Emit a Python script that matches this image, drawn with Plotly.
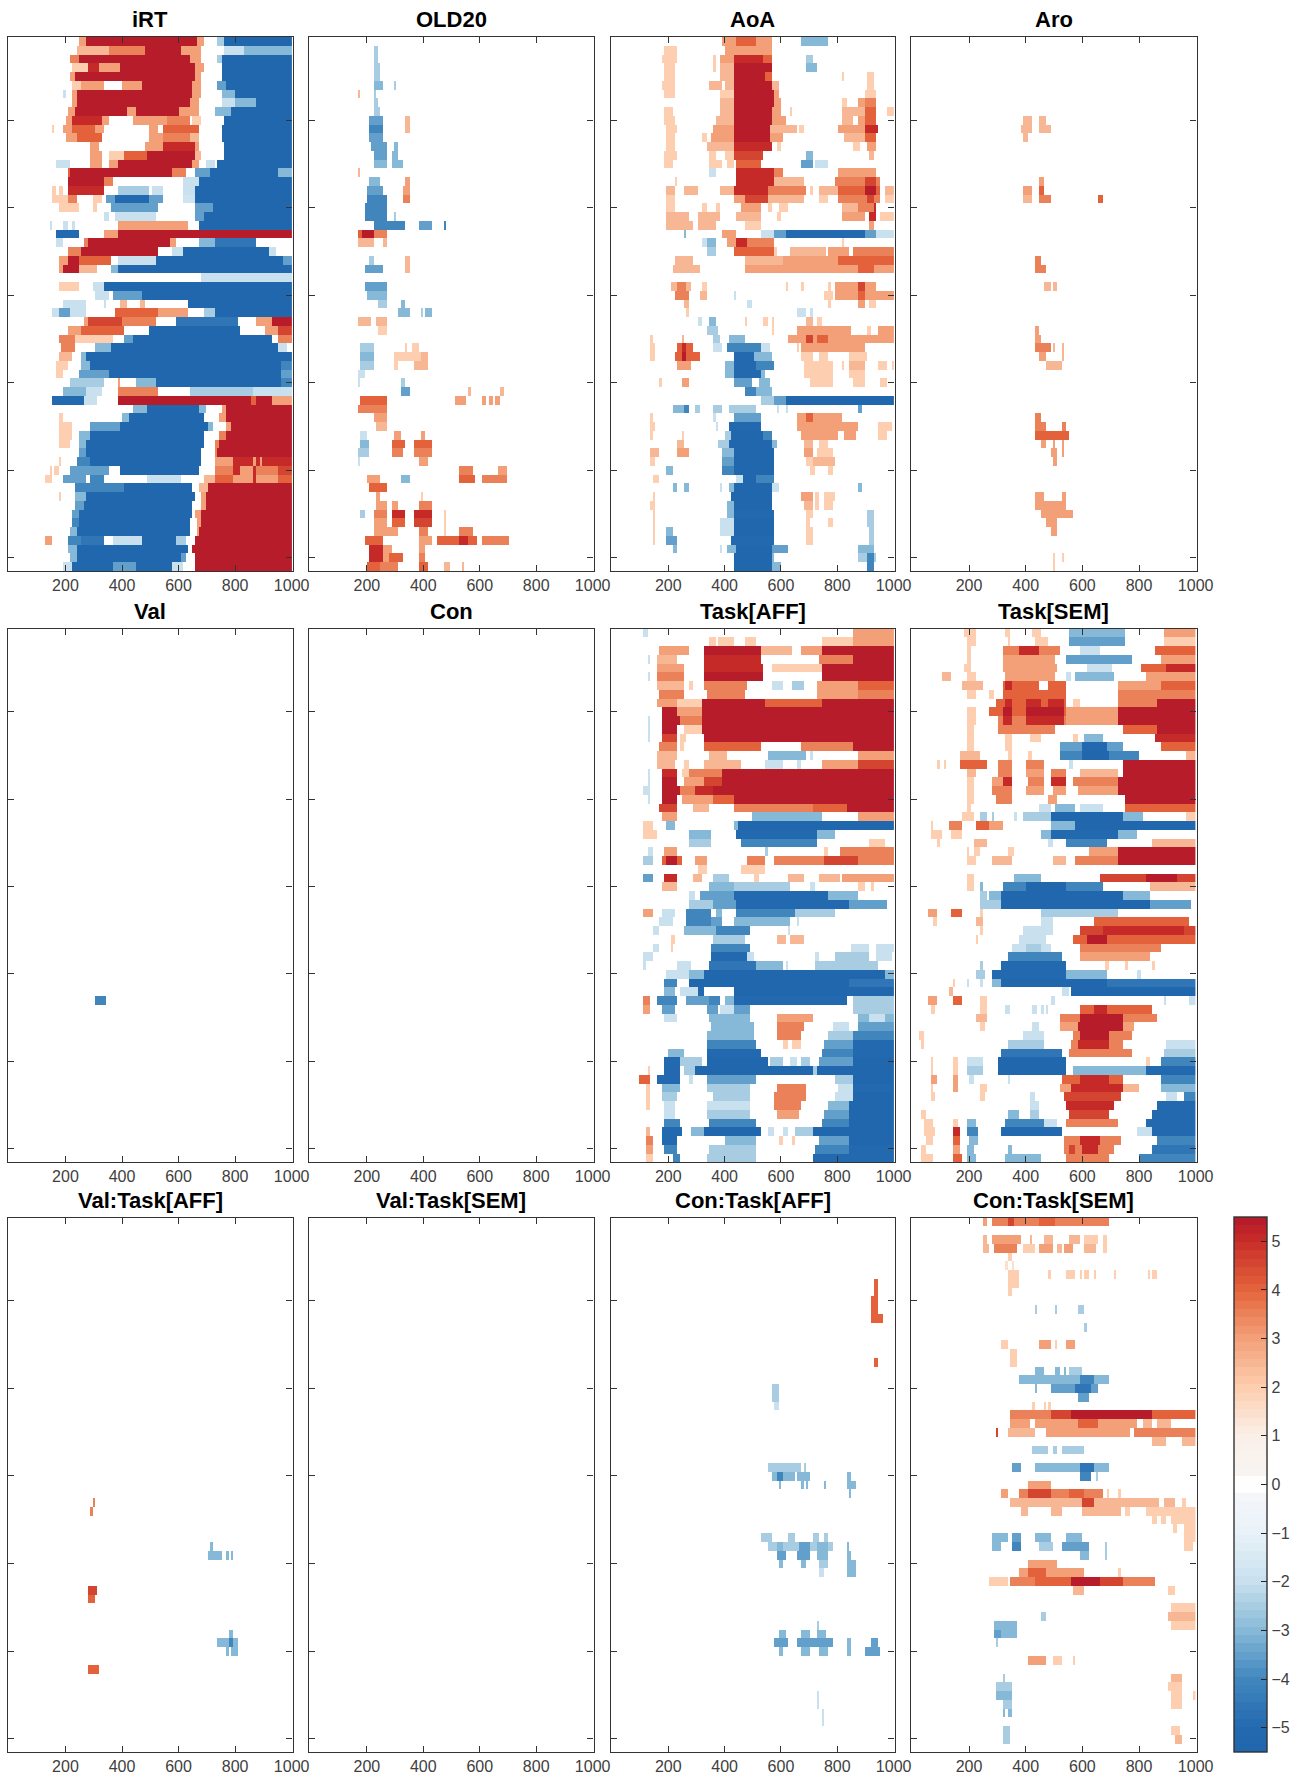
import numpy as np
import plotly.graph_objects as go

# Each panel: row number -> flat run list  start_ms, end_ms, t-value, ... (later runs overwrite earlier ones)
IRT = {
1:[245,275,3, 275,665,5.5, 665,690,3, 740,760,-2.5, 760,1000,-5.5],
2:[240,350,2.5, 350,480,3.5, 480,610,5.5, 610,680,3, 760,830,-2, 830,1000,-3],
3:[215,250,3.5, 250,640,5.5, 640,680,3, 735,750,-2.5, 750,1000,-5.5],
4:[225,280,2, 280,320,5, 320,390,3, 390,660,5.5, 660,690,3, 750,1000,-5.5],
5:[215,230,3, 230,660,5.5, 660,680,3, 750,1000,-5.5],
6:[225,260,2, 260,300,3, 300,340,3, 400,470,3, 470,650,5.5, 650,680,3, 740,770,-3.5, 770,1000,-5.5],
7:[190,198,-2, 225,240,3, 240,650,5.5, 650,680,3, 750,800,-3, 800,1000,-5.5],
8:[225,240,3, 240,640,5.5, 640,670,3, 750,800,-2, 800,870,-3, 870,1000,-5.5],
9:[210,230,3, 230,420,5.5, 420,450,3, 450,600,5.5, 600,670,3, 730,780,-3, 780,1000,-5.5],
10:[200,220,3, 220,330,5, 330,350,3, 440,480,3, 480,560,3, 560,640,3.5, 650,680,2, 760,1000,-5.5],
11:[150,160,2, 190,220,3, 220,300,4, 300,340,3, 500,530,3, 540,670,4, 750,1000,-5.5],
12:[200,240,3, 240,330,4, 500,540,3, 540,640,3.5, 640,670,2.5, 755,1000,-5.5],
13:[288,320,3, 480,540,3, 540,655,5, 655,675,3, 760,1000,-5.5],
14:[288,325,3, 355,410,2, 410,485,4, 485,655,5.5, 660,680,2.5, 760,1000,-5.5],
15:[170,215,-2, 290,325,3, 350,380,3, 380,650,5.5, 650,670,3, 695,725,-2, 740,1000,-5.5],
16:[205,235,4, 215,575,5.5, 575,620,3.5, 660,715,-3.5, 715,950,-5.5, 950,1000,-3],
17:[205,340,5.5, 340,370,3.5, 615,670,-2, 670,1000,-5.5],
18:[155,170,2, 175,190,2, 205,340,5, 380,500,-2.5, 505,545,-2, 615,655,-2, 660,1000,-5.5],
19:[155,205,2, 205,240,3.5, 295,325,2, 345,375,-3.5, 375,500,-5, 500,545,-3.5, 615,655,-1.8, 660,1000,-5.5],
20:[175,250,2, 295,315,2, 360,530,-3.5, 660,720,-3.5, 720,1000,-5.5],
21:[335,350,-2, 375,520,-2, 660,685,-3.5, 685,1000,-5.5],
22:[145,155,-2, 195,205,-2, 220,228,-2, 380,630,3, 670,1000,-5.5],
23:[170,250,-5, 335,380,3, 380,1000,5.5],
24:[170,190,-2, 265,280,3.5, 280,565,5.5, 565,595,3, 675,725,-3, 725,875,-4.5],
25:[205,255,3.5, 255,525,5.5, 580,615,-2, 615,920,-5.5, 920,945,-2],
26:[180,205,3, 205,245,5.5, 245,360,4, 380,520,-2, 520,965,-5.5, 965,1000,-3.5],
27:[175,195,3, 195,250,5.5, 250,315,2.5, 360,380,-3, 380,1000,-5.5],
28:[680,1000,-2],
29:[175,245,2, 295,340,-2, 340,1000,-5.5],
30:[305,355,-2, 370,470,-3.5, 470,1000,-5.5],
31:[195,270,-2, 335,345,-2, 390,420,2.5, 460,480,2.5, 630,1000,-5.5],
32:[155,175,-2, 175,215,-3.5, 215,270,-2, 375,530,4, 530,630,3, 685,725,-2.5, 725,1000,-5.5],
33:[265,280,3, 280,400,4.5, 400,520,3.5, 590,810,-4.5, 875,930,3, 930,1000,5.5],
34:[205,260,3, 260,410,4, 500,820,-5.5, 905,950,3, 950,1000,4.5],
35:[180,230,3.5, 230,370,2, 410,440,-3.5, 440,925,-5.5, 950,1000,3.5],
36:[185,230,3.5, 305,360,-3, 360,950,-5.5, 950,985,-2],
37:[180,225,2.5, 255,270,-3, 270,1000,-5.5],
38:[170,210,2, 255,285,-3, 285,960,-5.5, 960,1000,-4],
39:[170,190,2, 245,355,-3.5, 355,960,-5.5, 960,1000,-3.5],
40:[215,340,-2.5, 380,388,3, 450,520,-3, 520,960,-5.5, 960,1000,-4],
41:[195,270,-3, 270,325,-2, 380,525,3.5, 640,860,-2.5, 860,1000,-2],
42:[155,265,-5, 265,310,-2, 380,855,5.5, 855,870,4, 870,930,5.5, 930,1000,3],
43:[440,490,-3, 490,670,-5.5, 670,695,-3, 750,765,3, 765,1000,5.5],
44:[175,190,2, 400,425,-3, 425,690,-5.5, 745,765,3, 765,1000,5.5],
45:[175,225,2, 285,395,-3.5, 395,700,-5.5, 700,720,-3, 765,780,3, 780,1000,5.5],
46:[175,225,2, 245,285,-3, 285,690,-5.5, 745,765,3.5, 765,1000,5.5],
47:[180,215,2, 250,270,-3, 270,685,-5.5, 725,745,3.5, 745,1000,5.5],
48:[245,275,-3.5, 275,680,-5.5, 725,740,3.5, 740,1000,5.5],
49:[175,182,2, 240,290,-4, 290,680,-5.5, 730,790,3, 790,1000,5, 860,870,3, 890,900,3],
50:[140,150,2, 160,175,2, 215,350,-3.5, 395,670,-5.5, 725,790,3.5, 790,820,5, 820,860,3, 860,875,5, 875,950,3.5, 950,1000,4.5],
51:[130,155,2, 195,270,-3.5, 285,340,-4, 490,610,-2, 685,730,2.5, 730,790,4, 790,860,3, 860,875,5, 875,950,3, 950,1000,4],
52:[230,410,-4, 410,650,-5.5, 675,700,2.5, 700,1000,5.5],
53:[175,185,2, 230,270,-3, 270,655,-5.5, 680,695,3, 695,1000,5.5],
54:[235,265,-3.5, 265,650,-5.5, 680,695,3, 695,1000,5.5],
55:[225,250,-3.5, 250,645,-5.5, 660,680,3, 680,1000,5.5],
56:[220,250,-4, 250,640,-5.5, 665,680,3, 680,1000,5.5],
57:[215,240,-3, 240,640,-5.5, 665,675,3, 675,1000,5.5],
58:[130,155,3, 205,260,-4, 260,335,-4.5, 370,470,-2, 470,590,-5.5, 590,625,-2.5, 660,1000,5.5],
59:[210,240,-3, 240,630,-5.5, 650,1000,5.5],
60:[215,240,-3, 240,605,-5.5, 605,625,-3.5, 660,1000,5.5],
61:[190,225,-2, 225,365,-5.5, 365,450,-3.5, 450,580,-5.5, 580,615,-2, 660,1000,5.5],
}

OLD20 = {
2:[225,240,-2.5], 3:[220,240,-2.5], 4:[220,250,-2.5], 5:[220,250,-2.5],
6:[220,255,-3, 295,305,-2.5], 7:[170,180,2.5, 220,235,-2.5], 8:[220,240,-2.5], 9:[220,250,-2.5],
10:[210,255,-3.5, 335,350,2.5], 11:[210,255,-4, 335,350,2.5], 12:[210,258,-3.5],
13:[215,270,-3.5, 295,310,-3], 14:[220,270,-3.5, 290,315,-3], 15:[220,270,-3, 290,325,-3],
16:[170,180,2.5], 17:[210,250,-3, 335,350,3], 18:[200,260,-3.5, 330,355,3],
19:[200,270,-4, 330,355,3.5], 20:[190,270,-4], 21:[190,275,-4, 295,305,-2.5],
22:[228,335,-4, 385,430,-3.5, 470,478,-4],
23:[170,185,4, 185,228,5.5, 228,275,3.5], 24:[170,220,2.5, 258,268,2.5],
26:[210,228,-2.5, 335,350,2.5], 27:[190,258,-3.5, 340,355,2.5], 29:[190,270,-3.5],
30:[200,270,-3], 31:[240,270,-2.5, 320,335,-3], 32:[310,355,-3, 390,400,-2.5, 405,430,-3],
33:[170,218,2.5, 230,270,2.5], 34:[240,270,2], 36:[180,228,-2.5, 335,345,2, 360,380,2],
37:[180,228,-3, 295,415,2, 395,415,2.5], 38:[180,228,-2.5, 295,315,2, 370,415,2.5],
39:[170,190,-2], 40:[170,180,-2, 320,335,-2.5],
41:[320,355,-3.5, 560,570,2.5, 675,690,2.5],
42:[180,275,4, 515,555,3, 605,625,3, 635,645,3, 660,672,3],
43:[170,275,3.5], 44:[220,270,3], 45:[230,270,2.5],
46:[180,200,-2, 295,320,3, 390,405,3], 47:[180,210,-3, 290,335,4, 370,430,4],
48:[170,210,-2.5, 290,325,3.5, 370,430,3.5], 49:[170,180,-2, 380,415,3],
50:[525,575,3.5, 665,695,3], 51:[200,250,3, 320,355,-3, 525,585,4, 605,695,3.5],
52:[210,270,4], 53:[230,250,3, 390,400,2], 54:[230,270,3, 290,315,3, 380,430,3.5],
55:[180,190,-2.5, 220,270,3.5, 290,335,5, 370,430,5, 475,483,2],
56:[220,270,3, 290,335,4, 370,430,4.5, 475,483,2], 57:[220,270,3, 275,315,3, 380,415,3.5, 475,483,2, 525,575,3.5],
58:[190,258,4, 380,435,3, 445,595,4, 530,560,5, 605,705,3.5],
59:[210,258,5, 258,290,3, 380,405,3], 60:[210,258,5, 258,290,3, 280,325,4, 380,405,3.5],
61:[200,250,4, 250,315,3.5, 380,415,4, 475,495,2.5, 535,545,2.5],
}

AOA = {
1:[393,565,3, 441,510,4, 676,772,-3],
2:[186,234,2, 400,565,3],
3:[177,234,2, 359,367,2, 386,434,3, 434,538,5, 538,570,4, 690,714,-2.5],
4:[186,220,2, 359,372,2, 386,434,2.5, 434,565,5.5, 685,731,-3],
5:[186,220,2, 386,434,2.5, 434,545,5.5, 545,565,4, 814,825,2, 903,931,2],
6:[177,220,2, 345,393,2.5, 400,434,2.5, 434,565,5.5, 565,593,2.5, 903,931,2],
7:[186,220,2, 386,434,2, 434,572,5.5, 572,593,3, 896,938,2],
8:[386,434,2.5, 434,572,5.5, 572,600,3, 814,834,2, 869,896,3, 896,938,3.5],
9:[186,218,2, 386,434,2.5, 434,565,5.5, 565,600,3, 634,642,2, 814,896,2.5, 896,938,4, 972,1000,2],
10:[186,228,2, 365,428,2.5, 428,565,5.5, 565,614,3, 814,855,2.5, 869,896,3, 896,938,4],
11:[190,234,2, 359,434,3, 434,559,5.5, 559,655,2.5, 665,683,2, 803,896,3, 896,945,5],
12:[195,220,2, 324,332,2, 352,434,3, 434,559,5.5, 559,607,3, 827,896,2.5, 896,938,4],
13:[190,220,2, 338,434,2.5, 434,565,5, 586,600,2, 855,883,2, 903,938,3],
14:[186,234,2, 345,372,2, 400,434,2, 434,538,4.5, 690,714,-3, 910,931,2.5],
15:[186,218,2, 345,393,2, 407,428,2, 441,531,4, 676,714,-3.5, 724,765,-2],
16:[345,365,-2, 441,572,5, 572,610,3.5, 800,938,3],
17:[228,234,2, 441,572,5, 572,655,2.5, 655,683,2.5, 793,952,3.5, 896,938,4.5],
18:[196,228,2.5, 255,306,2.5, 386,434,2.5, 434,552,5, 552,690,3.5, 703,714,2, 738,803,2.5, 803,952,4, 896,938,5.5, 965,1000,2.5],
19:[196,220,2, 434,469,3, 469,552,4.5, 552,683,2.5, 738,765,2, 803,952,3.5, 903,931,4.5, 965,1000,2],
20:[196,220,2, 324,332,2, 372,386,2, 455,531,3, 552,565,2, 593,621,2, 814,869,2.5, 869,938,3.5, 924,931,5],
21:[196,273,2.5, 306,386,2.5, 441,524,2.5, 586,600,2, 814,896,3, 910,938,5, 952,1000,2],
22:[196,287,2.5, 306,372,2.5, 469,524,2, 910,931,3],
23:[255,265,-3, 393,441,3, 524,579,-2, 579,614,-3.5, 614,896,-5, 896,938,-3.5, 938,1000,-2],
24:[324,332,-2, 338,372,-3, 407,441,3, 441,476,5, 476,572,3.5, 814,825,2],
25:[332,372,-2.5, 434,572,4, 572,586,2, 634,758,2.5, 772,841,3, 855,1000,3.5],
26:[228,290,2.5, 469,607,2.5, 607,1000,3, 803,1000,4],
27:[218,314,2.5, 469,1000,3, 869,924,4],
29:[207,280,2.5, 234,266,3.5, 324,332,2, 614,622,2, 676,683,2, 765,772,2, 793,938,3, 869,896,4.5],
30:[228,273,3.5, 314,332,2.5, 434,441,-2, 752,783,2, 793,1000,3, 869,896,4],
31:[255,273,2.5, 476,496,-2, 765,772,2, 869,896,3, 910,938,2],
32:[265,273,2, 655,690,-2, 703,714,-2],
33:[306,324,-2, 345,372,-3, 469,476,2, 538,552,2, 565,572,2, 690,714,2.5, 731,745,2],
34:[338,379,-2.5, 565,572,2, 655,848,3, 903,917,2, 945,1000,3],
35:[138,145,2, 250,255,2.5, 359,386,-2.5, 414,469,-3, 625,1000,3, 690,714,4.5, 731,765,4],
36:[138,155,2, 234,287,4, 248,262,5, 359,393,-2, 407,531,-4, 531,559,-2, 655,662,2, 676,896,3],
37:[138,155,2, 228,314,4, 248,262,5.5, 434,503,-5, 503,565,-3, 676,714,2, 738,765,2, 841,903,2],
38:[234,280,3, 400,434,-3, 434,510,-5, 510,572,-4, 683,783,2, 814,825,2, 841,896,2.5, 945,972,2, 993,1000,2],
39:[400,428,-3, 428,524,-5, 524,545,-3, 683,783,2, 841,896,2],
40:[166,176,2, 248,273,3, 428,496,-3.5, 517,559,-3, 703,783,2, 855,896,2, 952,972,2],
41:[469,510,-4, 510,565,-3],
42:[524,579,-2.5, 579,614,-3.5, 614,1000,-5.5],
43:[218,255,-3, 255,273,-4, 297,314,-2.5, 359,393,-2.5, 414,510,-2.5, 586,593,-2, 614,622,-2, 869,890,-3.5],
44:[138,145,2, 359,372,-2, 428,531,-3.5, 655,814,3, 690,714,4],
45:[138,155,2, 365,372,-2, 414,531,-5, 655,869,3, 945,993,2],
46:[138,145,2, 248,255,2, 400,421,-2.5, 421,538,-5.5, 538,565,-4, 676,800,3, 827,862,3, 945,979,2],
47:[234,255,2.5, 379,414,-2.5, 414,565,-5.5, 565,586,-3, 683,714,2.5, 738,765,2],
48:[138,166,2.5, 234,273,3, 393,428,-3, 428,572,-5.5, 683,714,3, 731,783,2],
49:[138,155,2, 393,428,-3.5, 428,572,-5.5, 690,714,2, 714,793,2.5],
50:[196,218,-3, 393,434,-4, 434,572,-5.5, 703,724,2, 765,783,2],
51:[145,166,2, 441,462,-2, 462,510,-5.5, 510,572,-4],
52:[218,234,-3, 255,273,-3, 386,393,-2, 414,434,-3, 434,565,-5.5, 565,593,-2, 869,890,-3],
53:[145,155,2, 421,565,-5.5, 676,714,3, 724,738,2, 752,793,2],
54:[138,155,2, 407,434,-3, 434,565,-5.5, 683,714,2.5, 724,738,2, 752,783,2],
55:[145,155,2, 407,434,-3, 434,579,-5, 686,714,2, 903,931,-2.5],
56:[145,155,2, 386,428,-2, 428,572,-5.5, 686,703,2, 772,783,2, 903,931,-2.5],
57:[145,155,2, 196,218,-3, 386,428,-2, 428,572,-5.5, 690,714,2, 910,931,-2.5],
58:[145,155,2, 196,234,-3.5, 421,572,-5, 690,714,2, 910,924,-2.5],
59:[218,234,-3, 386,393,-2, 407,441,-3, 441,565,-5.5, 565,621,-3.5, 869,931,-3],
60:[428,565,-5.5, 565,579,-3, 869,938,-2.5, 903,931,-4],
61:[434,565,-5.5, 565,600,-3, 903,931,-4],
}

ARO = {
10:[395,425,2.5, 445,475,2.5], 11:[385,425,2.5, 445,485,2.5], 12:[395,405,2.5],
17:[445,465,3], 18:[395,425,3, 445,465,4], 19:[395,425,2.5, 445,485,3.5, 655,675,4],
26:[435,455,3.5], 27:[435,475,3.5], 29:[465,485,2.5, 495,515,2.5],
34:[435,445,3], 35:[435,455,3], 36:[435,485,3.5, 495,503,2.5, 525,533,2.5],
37:[445,475,3, 525,533,2.5], 38:[475,525,2.5],
44:[435,455,3.5], 45:[435,475,3.5, 525,545,3.5], 46:[435,555,4],
47:[455,475,3, 495,503,3, 525,533,3], 48:[485,515,3, 525,533,3], 49:[495,515,3],
53:[435,465,3, 525,545,3], 54:[435,545,3], 55:[455,565,3], 56:[475,515,3], 57:[485,515,3],
60:[495,505,2, 525,533,2], 61:[495,505,2],
}

VAL = {43:[300,345,-4]}

TASK_AFF = {
1:[115,125,-2, 855,1000,3],
2:[345,365,2, 375,435,2, 475,515,2, 745,855,2, 855,1000,3],
3:[165,275,3, 325,530,5.5, 530,640,2.5, 670,745,3, 745,1000,5.5],
4:[125,135,-2, 160,235,2.5, 330,525,5, 735,855,3.5, 855,1000,5.5],
5:[160,260,3, 325,535,5, 565,745,2, 745,1000,5.5],
6:[125,135,-2, 160,255,3.5, 325,535,5.5, 745,1000,5.5],
7:[160,255,2.5, 275,285,2, 330,480,3.5, 570,610,-2, 640,680,-2.5, 725,870,3, 870,1000,4],
8:[165,255,3.5, 335,470,3.5, 725,870,3, 870,1000,3.5],
9:[160,235,3, 235,320,2, 320,545,5.5, 545,745,4, 745,1000,5.5],
10:[180,235,5.5, 235,320,3, 320,1000,5.5],
11:[125,135,-2, 180,240,5.5, 240,320,3.5, 320,1000,5.5],
12:[125,135,-2, 180,235,5.5, 255,320,2, 320,1000,5.5],
13:[125,135,-2, 180,235,4.5, 240,262,2, 325,1000,5.5],
14:[165,235,3.5, 240,255,2, 325,530,4, 676,855,3.5, 855,1000,5.5],
15:[160,235,2.5, 345,410,2.5, 552,690,-3, 703,714,-2, 869,1000,3],
16:[160,228,2.5, 255,275,2, 330,455,2.5, 545,572,-2, 579,607,-2, 655,676,-2, 745,869,3, 869,1000,4.5],
17:[125,135,-2, 180,235,5, 250,275,2, 275,390,3.5, 390,1000,5.5],
18:[125,135,-2, 180,235,5.5, 255,325,3, 325,393,4.5, 393,1000,5.5],
19:[110,135,-2, 180,240,5.5, 240,297,3.5, 297,359,5, 359,1000,5.5],
20:[125,135,-2, 180,235,5.5, 250,359,3, 359,428,4, 428,1000,5.5],
21:[166,235,4.5, 287,345,2.5, 434,710,3.5, 710,830,4, 830,1000,5.5],
22:[177,235,3, 496,745,-3, 875,1000,3],
23:[110,145,2, 196,225,-3, 428,448,-3, 448,1000,-5.5],
24:[110,159,2, 270,350,-3, 441,730,-5, 730,793,-3],
25:[270,350,-2.5, 455,725,-4, 910,970,2],
26:[125,145,-2, 186,235,3, 545,555,-2.5, 752,772,2, 806,1000,3.5],
27:[115,145,-2.5, 180,245,4, 196,234,5.5, 297,332,3, 476,545,3.5, 572,1000,3.5, 752,869,4.5],
28:[306,340,2, 455,540,2],
29:[110,145,-3.5, 186,234,5, 286,324,2.5, 359,414,-2.5, 503,517,2, 621,683,2.5, 738,810,2.5, 820,1000,3],
30:[180,234,2.5, 345,428,-3, 428,634,-2.5, 703,724,-2, 869,896,2, 917,931,2],
31:[276,297,-2, 314,428,-3.5, 428,772,-5, 772,869,-3],
32:[276,359,-2.5, 359,441,-3.5, 441,841,-5, 841,979,-3.5],
33:[110,145,3, 177,228,-2, 262,349,-4, 372,393,-3, 441,648,-4, 648,793,-2.5],
34:[170,215,-2, 262,349,-4, 349,393,-3.5, 434,634,-3, 655,662,-2],
35:[145,170,-2, 255,372,-3, 372,490,-4, 620,634,-2],
36:[207,225,2, 359,469,-2.5, 586,614,2.5, 634,683,2.5],
37:[140,166,-2, 207,218,2, 352,490,-4, 848,910,-2, 938,1000,-2],
38:[110,145,-2, 352,476,-5, 476,503,-2, 717,738,-2, 793,910,-2.5, 938,993,-2],
39:[110,120,-2, 234,282,-2, 345,510,-4.5, 510,607,-3, 614,622,-2, 717,793,-2.5, 793,945,-2.5],
40:[196,275,-2, 275,330,-3, 330,965,-5.5, 965,1000,-3],
41:[186,234,-4, 275,1000,-5.5, 841,1000,-4.5],
42:[186,228,-3, 241,330,-2, 303,330,-5, 428,1000,-5.5],
43:[110,138,3.5, 159,234,-4, 262,345,-3.5, 345,386,-4, 400,434,-3, 434,830,-5, 855,1000,-2.5],
44:[110,138,3, 177,228,-3.5, 338,379,-3.5, 386,434,-2, 434,490,-3.5, 855,1000,-2.5],
45:[186,234,-2, 345,434,-3, 434,490,-3, 586,710,3, 869,910,-3, 910,965,-2, 965,1000,-3],
46:[352,503,-3, 586,680,3.5, 786,841,-2, 869,1000,-3.5],
47:[338,503,-3, 586,672,3.5, 772,855,-2.5, 855,1000,-4],
48:[338,510,-4, 607,621,2, 641,669,2, 752,855,-3.5, 855,1000,-5],
49:[200,255,-3, 338,531,-5, 745,855,-4, 855,1000,-5],
50:[186,241,-5, 241,320,-2.5, 338,552,-5.5, 559,607,-2.5, 634,655,-2, 669,703,-2.5, 738,855,-3.5, 855,1000,-5.5],
51:[125,135,2, 186,241,-5, 255,297,-2.5, 297,714,-5.5, 714,730,-2.5, 730,1000,-5.5],
52:[100,135,4, 159,241,-5, 269,290,-2, 338,510,-3.5, 793,855,-2.5, 855,1000,-5.5],
53:[120,135,2, 180,241,-3, 338,490,-2.5, 586,690,3.5, 800,855,-2, 855,1000,-5],
54:[120,135,2, 180,234,-2.5, 359,490,-2.5, 579,690,3.5, 793,855,-2, 855,1000,-5.5],
55:[120,135,2, 186,228,-2, 338,490,-2, 579,676,3.5, 765,841,-3, 841,1000,-5.5],
56:[186,228,-2, 338,490,-2.5, 586,662,3, 752,841,-3.5, 841,1000,-5.5],
57:[186,241,-4, 345,510,-4, 745,841,-4, 841,1000,-5.5],
58:[120,135,2.5, 180,248,-5, 283,330,-3, 330,531,-5.5, 552,579,-2, 607,621,-2, 648,710,-2.5, 710,1000,-5.5],
59:[120,145,3.5, 180,234,-5, 400,510,-3, 593,607,2, 641,648,2, 738,841,-3.5, 841,1000,-5.5],
60:[120,145,3, 186,234,-4, 345,510,-2.5, 724,841,-4, 841,1000,-5],
61:[120,145,2, 214,241,-4, 338,510,-2.5, 710,1000,-5],
}

TASK_SEM = {
1:[185,225,2, 327,343,2, 423,458,2, 554,754,-3, 885,1000,3],
2:[189,223,2, 334,343,2, 430,479,2, 554,754,-3.5, 885,1000,2],
3:[189,210,2, 320,520,3.5, 375,451,5, 596,665,-2, 858,1000,4],
4:[189,210,2, 320,506,3, 547,775,-3.5, 878,1000,3],
5:[185,210,2, 320,513,3, 616,706,-2, 810,1000,4, 892,1000,5],
6:[105,135,2.5, 189,223,2, 327,506,3, 547,561,-2, 575,713,-3, 823,1000,3],
7:[180,245,2.5, 320,451,4, 327,354,5, 479,541,4, 727,1000,3, 878,1000,4],
8:[189,223,2, 272,285,2, 320,541,4, 727,1000,3.5],
9:[299,541,4, 327,354,5, 403,458,5, 479,534,5, 568,589,2, 727,865,3.5, 865,1000,5.5],
10:[189,223,2, 272,541,4, 320,354,5.5, 396,534,5.5, 541,727,3, 727,1000,5.5],
11:[189,223,2, 306,548,3.5, 320,354,5, 396,534,5, 548,727,3, 727,1000,5.5],
12:[196,214,2, 306,506,3.5, 741,865,4, 865,1000,5.5],
13:[196,214,2, 327,354,2, 416,458,2, 568,582,2, 610,672,-3, 858,1000,5],
14:[196,214,2, 327,354,2, 520,741,-3.5, 603,685,-5, 878,1000,4],
15:[168,237,2.5, 340,354,2, 410,423,2, 520,796,-4, 603,699,-5.5, 968,1000,2.5],
16:[86,92,2, 113,120,2, 168,265,4, 306,354,3.5, 396,465,3.5, 554,568,-2, 741,1000,5.5],
17:[189,223,2.5, 306,354,3.5, 396,465,3, 485,541,3.5, 589,727,2.5, 741,1000,5.5],
18:[196,214,2, 279,320,3, 320,354,5, 410,465,3.5, 485,547,5, 568,727,3.5, 727,1000,5.5],
19:[196,214,2, 279,354,3.5, 403,465,3, 499,541,3, 582,727,3, 727,1000,5.5],
20:[196,214,2, 299,354,3.5, 479,513,3, 748,1000,5.5],
21:[189,210,2, 444,485,-2, 506,575,-3, 596,672,-2, 748,1000,4],
22:[178,214,2, 237,265,-2.5, 279,292,-2.5, 361,368,-2, 389,485,-2.5, 485,741,-5.5, 741,816,-3, 968,1000,2],
23:[68,75,2, 127,175,3.5, 228,320,3, 228,272,4, 485,575,-3, 575,1000,-5.5],
24:[68,103,2, 134,180,2, 458,485,-3, 485,727,-5, 727,789,-3],
25:[86,92,2, 214,265,2.5, 479,499,-2, 547,685,-4, 844,1000,2.5],
26:[196,203,2, 214,237,2, 334,361,2, 623,727,3, 727,1000,5.5],
27:[196,223,2, 279,354,2.5, 499,541,2.5, 575,727,3.5, 727,1000,5.5],
29:[196,214,2, 361,458,-3, 665,1000,4.5, 823,934,5.5],
30:[196,214,2, 237,251,-3, 320,672,-4, 396,547,-5.5, 837,1000,2.5],
31:[237,265,-2.5, 272,313,-3, 313,741,-5.5, 741,837,-3],
32:[244,313,-2.5, 313,837,-5.5, 837,982,-3.5],
33:[58,90,3, 134,175,4, 237,251,2, 458,485,-2.5, 485,727,-2.5],
34:[75,85,2, 228,251,2.5, 458,499,-2, 637,975,4],
35:[244,251,2, 389,492,-2, 589,1000,4.5, 672,961,5],
36:[222,230,2, 375,472,-2, 568,1000,4, 616,692,5.5],
37:[354,485,-2, 396,458,-2.5, 589,878,3.5],
38:[334,527,-4, 589,837,3],
39:[237,251,-2.5, 313,541,-5, 678,699,2, 748,756,2, 844,851,2],
40:[228,258,-2.5, 279,547,-5, 547,685,-3, 789,810,-2],
41:[148,155,2, 189,196,-2, 244,251,-2, 279,313,-3, 313,1000,-5.5, 685,1000,-4.5],
42:[127,148,2.5, 527,554,-2, 561,1000,-5.5],
43:[58,86,3, 141,175,4, 237,265,2, 485,503,-2, 885,892,-2, 975,1000,-2],
44:[68,81,2, 237,265,2, 327,343,-2, 423,437,-2, 458,465,-2, 472,479,-2, 589,851,4, 644,685,5],
45:[228,265,2.5, 520,865,3.5, 589,741,5.5],
46:[237,258,2, 423,451,-2, 520,782,3, 582,741,5.5],
47:[23,40,2, 389,465,-2, 568,775,3.5, 589,699,5.5],
48:[30,40,2, 340,465,-2.5, 561,741,3.5, 582,699,5, 892,1000,-2],
49:[313,527,-4.5, 554,775,3.5, 885,1000,-2.5],
50:[68,75,2, 145,159,2, 189,251,-2, 306,541,-5.5, 823,837,2, 878,1000,-4],
51:[68,75,2, 145,159,2, 196,251,-2.5, 306,541,-5.5, 568,823,-3, 823,1000,-5],
52:[65,86,3, 141,161,3, 203,216,-2, 334,343,-2, 527,741,4, 596,699,5, 878,1000,-4],
53:[68,75,2, 141,161,3, 244,265,2, 520,803,3, 561,741,5, 741,803,2.5, 878,1000,-3],
54:[68,81,2, 244,258,2, 416,430,-2, 534,734,4.5, 892,934,-2, 961,1000,-4],
55:[416,444,-2, 547,713,5, 865,1000,-5],
56:[30,44,2, 334,375,-3, 416,451,-2.5, 554,699,4.5, 851,1000,-5],
57:[40,72,2, 148,161,2, 196,223,-3, 327,465,-4, 465,513,-2, 547,727,3.5, 823,1000,-5],
58:[40,81,2, 141,168,5, 196,230,-4, 313,527,-5, 789,851,-2, 851,1000,-5],
59:[44,72,2, 141,168,4, 203,230,-3, 534,734,3.5, 596,665,5, 865,1000,-4],
60:[30,44,2, 148,168,3, 196,214,-3, 334,354,-3, 534,713,3.5, 554,575,4.5, 603,658,5, 851,1000,-4.5],
61:[35,75,2, 141,175,4, 196,223,-3, 327,458,-3, 541,699,3.5, 803,1000,-4],
}

VAL_AFF = {
33:[295,305,3.5], 34:[285,295,3.5], 38:[710,720,-3], 39:[705,755,-3, 765,775,-3, 787,795,-3],
43:[280,315,4.5], 44:[280,305,4], 48:[775,795,-3], 49:[735,805,-3, 775,795,-4],
50:[765,775,-3, 787,805,-3], 52:[280,320,4],
}

VAL_SEM = {}

CON_AFF = {
8:[930,940,4], 9:[930,940,4], 10:[920,940,4], 11:[920,940,4], 12:[920,960,4], 17:[930,940,4],
20:[570,590,-2.5], 21:[570,590,-2.5], 22:[580,590,-2],
29:[550,670,-2.5, 680,690,-2.5], 30:[565,650,-3, 585,605,-4, 660,700,-3, 830,850,-3],
31:[590,600,-3, 670,678,-3, 690,698,-3, 750,760,-3, 830,860,-3], 32:[840,850,-3],
37:[525,570,-2.5, 625,645,-2.5, 710,740,-2.5, 750,770,-2.5],
38:[555,780,-2.5, 585,610,-3, 665,705,-3.5, 725,770,-3, 830,840,-3],
39:[585,615,-3.5, 660,705,-3.5, 725,770,-3, 830,850,-3],
40:[595,605,-3, 670,690,-3, 735,770,-2.5, 830,860,-3],
41:[740,750,-2, 830,860,-3],
47:[725,740,-2.5], 48:[595,615,-3, 670,700,-3, 725,760,-3],
49:[580,625,-3.5, 660,780,-3.5, 830,850,-3, 920,940,-3.5],
50:[595,605,-3, 670,700,-3, 735,770,-3, 830,850,-3, 900,950,-3.5],
55:[725,735,-2], 56:[725,740,-2], 57:[745,755,-2], 58:[745,755,-2],
}

CON_SEM = {
1:[245,265,3, 280,695,3.5, 335,360,4.5, 450,505,4],
3:[245,265,2.5, 280,385,3, 415,425,2.5, 460,495,2.5, 555,590,2.5, 610,655,2, 675,685,2],
4:[245,270,2.5, 285,365,3.5, 395,430,2, 445,500,3, 515,530,2.5, 535,570,3, 605,650,2.5, 675,685,2],
5:[340,350,2], 6:[325,335,1.5, 350,360,1.5],
7:[340,375,2, 480,490,2, 540,575,2, 590,600,2, 610,620,2, 640,650,2, 710,720,2, 830,840,2, 850,860,2],
8:[340,375,2], 9:[340,350,2],
11:[430,440,-2.5, 505,515,-2.5, 585,605,-2.5], 13:[605,615,-2.5],
15:[315,335,2, 450,485,3, 505,515,2, 540,580,3], 16:[345,365,2], 17:[345,365,2],
18:[430,460,-3, 505,520,-3, 535,545,-3, 555,600,-2.5],
19:[375,695,-3, 590,640,-4], 20:[430,440,-3, 490,660,-3.5, 580,630,-4.5], 21:[585,625,-3.5],
22:[425,435,2, 460,470,2, 480,490,2],
23:[345,490,3.5, 490,560,4.5, 560,850,5.5, 850,1000,4],
24:[345,415,3, 435,790,3, 585,660,4, 815,845,2.5, 865,910,2.5],
25:[295,305,4.5, 340,430,2.5, 470,765,3, 780,1000,3.5],
26:[845,895,2.5, 955,1000,2.5],
27:[425,480,-2.5, 495,510,-2.5, 525,610,-2.5],
29:[355,385,-3.5, 435,695,-3, 590,640,-4.5], 30:[590,635,-4, 645,655,-2.5],
31:[410,485,3], 32:[315,335,3, 375,675,3.5, 410,485,4.5, 550,610,4, 690,695,2, 725,740,2],
33:[345,870,2.5, 600,640,4.5, 885,925,2.5, 950,965,2],
34:[385,405,2.5, 490,525,2.5, 600,735,2.5, 755,770,2, 825,1000,2],
35:[850,860,2, 880,895,2, 910,1000,2], 36:[920,935,2, 960,1000,2],
37:[280,340,-3, 350,385,-3.5, 435,490,-3, 545,600,-3, 960,1000,2],
38:[280,315,-3, 350,380,-4, 445,495,-2.5, 530,625,-3.5, 680,690,-2.5, 960,990,2],
39:[590,620,-3, 680,690,-2.5],
40:[410,515,3], 41:[375,610,3, 410,470,4, 730,740,2],
42:[270,335,2, 345,855,3.5, 430,560,4, 560,665,5.5, 665,745,4.5],
43:[570,610,2.5, 905,925,2], 45:[915,1000,2],
46:[455,475,-2.5, 905,1000,2.5], 47:[285,365,-3, 915,1000,2], 48:[285,365,-3, 285,310,-3.5],
49:[295,305,-2.5], 51:[405,475,3, 495,530,2, 570,580,2],
53:[320,330,-2.5, 915,955,2.5], 54:[295,355,-2.5, 905,955,2],
55:[295,355,-3, 915,955,2, 995,1000,2], 56:[320,350,-2.5, 915,955,2], 57:[320,330,-3, 335,355,-3],
59:[320,345,-2.5, 915,945,2], 60:[320,345,-2.5, 930,955,2.5],
}

PANEL_TITLES = ["iRT","OLD20","AoA","Aro","Val","Con","Task[AFF]","Task[SEM]",
                "Val:Task[AFF]","Val:Task[SEM]","Con:Task[AFF]","Con:Task[SEM]"]
PANEL_DATA = [IRT,OLD20,AOA,ARO,VAL,{},TASK_AFF,TASK_SEM,VAL_AFF,VAL_SEM,CON_AFF,CON_SEM]

TIME_STEP = 8
N_ROWS = 61
times = np.arange(TIME_STEP/2, 1000, TIME_STEP)
rows = np.arange(1, N_ROWS+1)
X_TICKS = [200,400,600,800,1000]
Y_TICKS = [10,20,30,40,50,60]
CB_TICKS = [-5,-4,-3,-2,-1,0,1,2,3,4,5]
ZMAX = 5.5

def to_matrix(runs):
    z = np.full((N_ROWS, len(times)), np.nan)
    for r, flat in runs.items():
        for k in range(0, len(flat), 3):
            a, b, v = flat[k:k+3]
            i0 = int(round(a/TIME_STEP))
            i1 = max(i0+1, int(round(b/TIME_STEP)))
            z[r-1, i0:i1] = v
    return z

# stepped 64-level colormap
ANCHORS = [(-5.5,(33,102,172)),(-5,(35,105,175)),(-4,(65,135,190)),(-3,(135,185,215)),(-2,(200,224,238)),
           (-1,(232,242,248)),(-0.17,(245,247,250)),(-0.08,(255,255,255)),(0.08,(255,255,255)),(0.17,(247,245,242)),
           (1,(250,240,232)),(2,(253,205,175)),(3,(243,160,120)),(4,(228,100,60)),(5,(200,45,40)),(5.5,(178,24,43))]
LEVELS = 64
def color_at(v):
    xs = [a[0] for a in ANCHORS]
    return tuple(int(round(np.interp(v, xs, [a[1][c] for a in ANCHORS]))) for c in range(3))
scale = []
for i in range(LEVELS):
    lo, hi = i/LEVELS, (i+1)/LEVELS
    c = color_at(-ZMAX + (lo+hi)*ZMAX)
    s = f"rgb{c}"
    scale += [[lo, s], [hi, s]]

W, H = 1306, 1780
COL_X = [(7.5,292.5),(309,593.5),(610.5,894.5),(911,1196.5)]
ROW_Y = [(37,571),(628.5,1162),(1217.5,1752)]

fig = go.Figure()
TICKFONT = dict(family="Liberation Sans", size=16, color="#404040")
annotations = []
for idx, (title, data) in enumerate(zip(PANEL_TITLES, PANEL_DATA)):
    rw, cl = idx//4, idx%4
    x0, x1 = COL_X[cl]; y0, y1 = ROW_Y[rw]
    n = idx+1
    suffix = "" if n == 1 else str(n)
    fig.add_trace(go.Heatmap(
        x=times, y=rows, z=to_matrix(data), zmin=-ZMAX, zmax=ZMAX, colorscale=scale,
        xaxis=f"x{suffix}", yaxis=f"y{suffix}", showscale=(idx == 0), hoverongaps=False,
        colorbar=dict(x=1234.3/W, xanchor="left", xref="paper", y=1-(1217+1752)/2/H, yanchor="middle",
                      lenmode="pixels", len=535, thicknessmode="pixels", thickness=33.4,
                      tickvals=CB_TICKS, ticks="inside", ticklen=6, tickcolor="#222222",
                      outlinecolor="#333333", outlinewidth=1.4, tickfont=TICKFONT, xpad=0, ypad=0)))
    axis = dict(showline=True, linecolor="#333333", linewidth=1.4, mirror="allticks", ticks="inside",
                ticklen=6, tickcolor="#333333", tickwidth=1, showgrid=False, zeroline=False)
    fig.update_layout({
        f"xaxis{suffix}": dict(axis, domain=[x0/W, x1/W], range=[-5,1003], tickvals=X_TICKS,
                               tickfont=TICKFONT, anchor=f"y{suffix}"),
        f"yaxis{suffix}": dict(axis, domain=[1-y1/H, 1-y0/H], range=[N_ROWS+0.5,0.5], tickvals=Y_TICKS,
                               showticklabels=False, anchor=f"x{suffix}"),
    })
    annotations.append(dict(x=(x0+x1)/2/W, y=1-(y0-3)/H, xref="paper", yref="paper", text=f"<b>{title}</b>",
                            showarrow=False, xanchor="center", yanchor="bottom",
                            font=dict(family="Liberation Sans", size=22, color="black")))

fig.update_layout(width=W, height=H, margin=dict(l=0,r=0,t=0,b=0,autoexpand=False), paper_bgcolor="white",
                  plot_bgcolor="white", annotations=annotations, showlegend=False)
PAGE_JS = ("document.body.style.margin='0';"
           "var s=document.createElement('style');"
           "s.textContent='.heatmaplayer image{filter:blur(0.7px);}';"
           "document.head.appendChild(s);")
fig.write_html("out.html", config={"displayModeBar": False}, post_script=PAGE_JS)
